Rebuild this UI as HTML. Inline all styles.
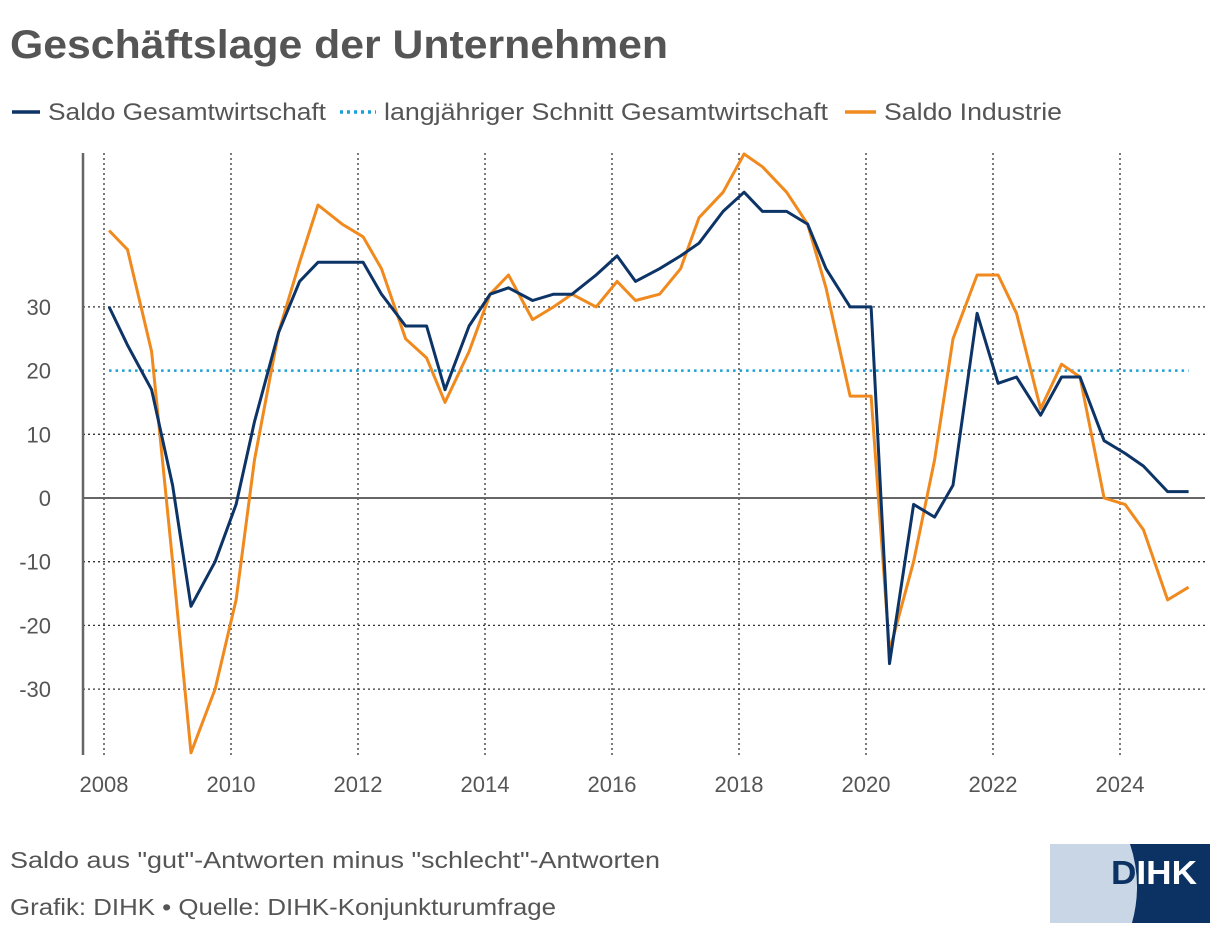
<!DOCTYPE html>
<html><head><meta charset="utf-8"><style>
body{margin:0;background:#fff;width:1220px;height:934px;overflow:hidden;font-family:"Liberation Sans",sans-serif;}
</style></head><body>
<svg width="1220" height="934" xmlns="http://www.w3.org/2000/svg">
<text x="10" y="58" font-size="40" font-weight="bold" fill="#555" textLength="658" lengthAdjust="spacingAndGlyphs">Geschäftslage der Unternehmen</text>
<g font-size="24" fill="#555">
<line x1="12" y1="112" x2="40" y2="112" stroke="#0d3466" stroke-width="3.5"/>
<text x="48" y="120" textLength="278" lengthAdjust="spacingAndGlyphs">Saldo Gesamtwirtschaft</text>
<line x1="340" y1="112" x2="376" y2="112" stroke="#1a9fd8" stroke-width="3.5" stroke-dasharray="3,4"/>
<text x="384" y="120" textLength="444" lengthAdjust="spacingAndGlyphs">langjähriger Schnitt Gesamtwirtschaft</text>
<line x1="845" y1="112" x2="876" y2="112" stroke="#f08a1e" stroke-width="3.5"/>
<text x="884" y="120" textLength="178" lengthAdjust="spacingAndGlyphs">Saldo Industrie</text>
</g>
<g id="grid"></g><g id="axes"></g><g id="lines"></g>
<text x="10" y="868" font-size="23" fill="#555" textLength="650" lengthAdjust="spacingAndGlyphs">Saldo aus "gut"-Antworten minus "schlecht"-Antworten</text>
<text x="10" y="915" font-size="23" fill="#555" textLength="546" lengthAdjust="spacingAndGlyphs">Grafik: DIHK • Quelle: DIHK-Konjunkturumfrage</text>
<g>
<rect x="1050" y="844" width="160" height="79" fill="#c8d6e5"/>
<path d="M1130,844 Q1143,883 1132,923 L1210,923 L1210,844 Z" fill="#0b3263"/>
<text x="1111" y="884" font-size="33" font-weight="bold" textLength="86" lengthAdjust="spacingAndGlyphs"><tspan fill="#0b3263">D</tspan><tspan fill="#fff">IHK</tspan></text>
</g>
</svg>
<script>
const ns="http://www.w3.org/2000/svg";
const yearTicks=[2008,2010,2012,2014,2016,2018,2020,2022,2024];
const valueTicks=[-30,-20,-10,0,10,20,30];
const years=[];
for(let y=2008;y<=2024;y++){years.push(y+0.08,y+0.37,y+0.75);} years.push(2025.08);
const gesamt=[30,24,17, 2,-17,-10, -1,12,26, 34,37,37, 37,32,27, 27,17,27, 32,33,31, 32,32,35, 38,34,36, 38,40,45, 48,45,45, 43,36,30, 30,-26,-1, -3,2,29, 18,19,13, 19,19,9, 7,5,1, 1];
const industrie=[42,39,23, -10,-40,-30, -16,6,26, 37,46,43, 41,36,25, 22,15,23, 32,35,28, 30,32,30, 34,31,32, 36,44,48, 54,52,48, 43,33,16, 16,-24,-10, 6,25,35, 35,29,14, 21,19,0, -1,-5,-16, -14];
const average=[20];
const X=t=>104+(t-2008)*63.5;
const Y=v=>498-v*6.37;
const plotTop=153,plotBot=755,plotL=83,plotR=1205;
function mk(tag,attrs,parent){const e=document.createElementNS(ns,tag);for(const k in attrs)e.setAttribute(k,attrs[k]);document.getElementById(parent).appendChild(e);return e;}
yearTicks.forEach(y=>{
 const l=mk('line',{x1:X(y),x2:X(y),y1:plotTop,y2:plotBot,stroke:'#333','stroke-width':1.3,'stroke-dasharray':'2,3'},'grid');
 
 
 const t=mk('text',{x:X(y),y:792,'font-size':22,fill:'#555','text-anchor':'middle'},'axes');t.textContent=y;
 
 
});
valueTicks.forEach(v=>{
 if(v!==0&&v!==20){const l=mk('line',{x1:plotL,x2:plotR,y1:Y(v),y2:Y(v),stroke:'#333','stroke-width':1.3,'stroke-dasharray':'2,3'},'grid');
 
 }
 const t=mk('text',{x:51,y:Y(v)+8,'font-size':22,fill:'#555','text-anchor':'end'},'axes');t.textContent=v;
 
 
});
const z=mk('line',{x1:plotL,x2:plotR,y1:Y(0),y2:Y(0),stroke:'#666','stroke-width':2},'axes');


const ya=mk('line',{x1:plotL,x2:plotL,y1:plotTop,y2:plotBot,stroke:'#666','stroke-width':2.5},'axes');


const av=mk('line',{x1:X(years[0]),x2:X(years[years.length-1]),y1:Y(average[0]),y2:Y(average[0]),stroke:'#1a9fd8','stroke-width':2.5,'stroke-dasharray':'2.5,4'},'lines');


function path(d,c,name){const p=mk('path',{d:d.map((v,i)=>(i?'L':'M')+X(years[i]).toFixed(1)+','+Y(v).toFixed(1)).join(''),fill:'none',stroke:c,'stroke-width':3,'stroke-linejoin':'round'},'lines');
 
 }
path(industrie,'#f08a1e','industrie-line');
path(gesamt,'#0d3466','gesamt-line');
</script>
</body></html>
